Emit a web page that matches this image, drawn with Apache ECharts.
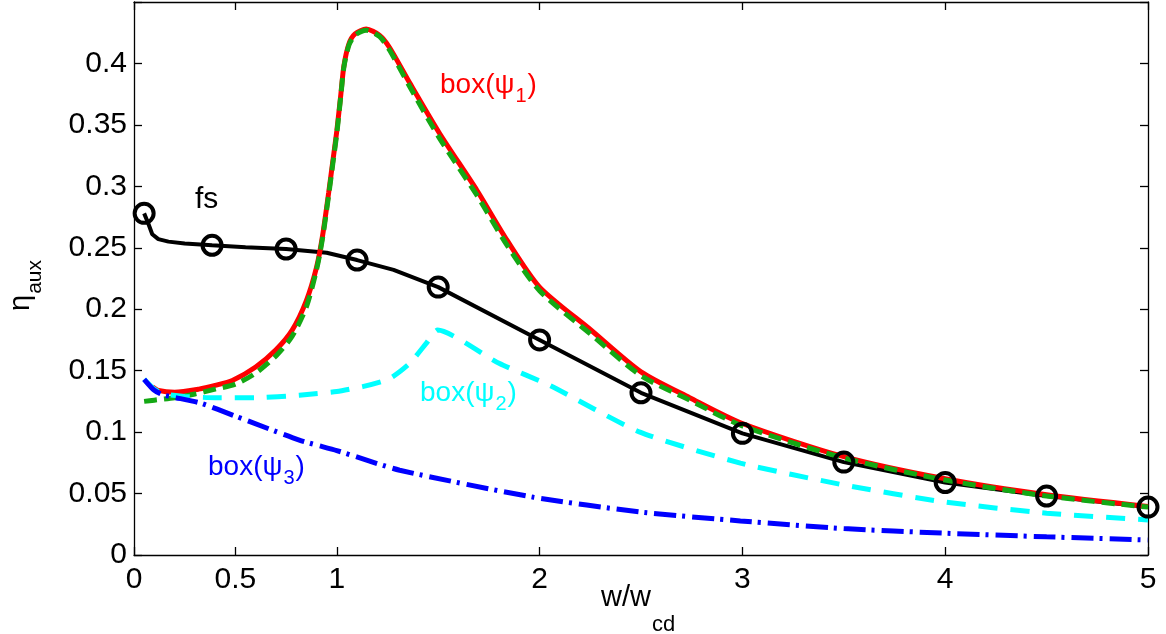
<!DOCTYPE html>
<html>
<head>
<meta charset="utf-8">
<script src="https://cdn.jsdelivr.net/npm/echarts@6/dist/echarts.min.js"></script>
<style>
html,body{margin:0;padding:0;background:#fff;}
#main{width:1166px;height:634px;}
</style>
</head>
<body>
<div id="main"></div>
<script>
// ---- data ----
const xTickValues = [0, 0.5, 1, 2, 3, 4, 5];

const fsX = [0.05, 0.07, 0.09, 0.12, 0.17, 0.25, 0.385, 0.55, 0.75, 0.95, 1.1, 1.28, 1.5, 2.0, 2.5, 3.0, 3.5, 4.0, 4.5, 5.0];
const fsY = [0.278, 0.270, 0.261, 0.257, 0.255, 0.2535, 0.252, 0.2505, 0.249, 0.246, 0.240, 0.232, 0.218, 0.175, 0.132, 0.099, 0.0756, 0.059, 0.048, 0.039];

const fsMarkX = [0.05, 0.385, 0.75, 1.1, 1.5, 2.0, 2.5, 3.0, 3.5, 4.0, 4.5, 5.0];
const fsMarkY = [0.278, 0.252, 0.249, 0.240, 0.218, 0.175, 0.132, 0.099, 0.0756, 0.059, 0.048, 0.039];

const box1X = [0.09, 0.12, 0.2, 0.32, 0.4, 0.485, 0.6, 0.7, 0.78, 0.85, 0.9, 0.93, 0.96, 0.98, 1.0, 1.02, 1.035, 1.06, 1.09, 1.145, 1.21, 1.26, 1.36, 1.507, 1.69, 1.84, 2.0, 2.25, 2.5, 2.74, 3.0, 3.5, 4.0, 4.5, 5.0];
const box1Y = [0.137, 0.134, 0.1325, 0.135, 0.138, 0.142, 0.153, 0.167, 0.183, 0.207, 0.234, 0.26, 0.295, 0.32, 0.345, 0.375, 0.398, 0.416, 0.424, 0.428, 0.423, 0.413, 0.384, 0.343, 0.297, 0.256, 0.218, 0.1835, 0.149, 0.128, 0.107, 0.080, 0.062, 0.049, 0.0395];

const box1bX = [0.05, 0.1, 0.2, 0.3, 0.4, 0.5, 0.6, 0.7, 0.78, 0.85, 0.9, 0.93, 0.96, 0.98, 1.0, 1.02, 1.035, 1.06, 1.09, 1.145, 1.21, 1.26, 1.36, 1.507, 1.69, 1.84, 2.0, 2.25, 2.5, 2.74, 3.0, 3.5, 4.0, 4.5, 5.0];
const box1bY = [0.125, 0.126, 0.128, 0.131, 0.135, 0.139, 0.148, 0.162, 0.178, 0.202, 0.232, 0.258, 0.293, 0.318, 0.343, 0.374, 0.397, 0.415, 0.423, 0.427, 0.422, 0.411, 0.381, 0.339, 0.293, 0.252, 0.215, 0.180, 0.146, 0.126, 0.105, 0.079, 0.061, 0.048, 0.039];

const box2X = [0.05, 0.1, 0.15, 0.25, 0.4, 0.6, 0.815, 1.0, 1.127, 1.22, 1.275, 1.36, 1.44, 1.497, 1.8, 2.05, 2.495, 2.99, 3.5, 3.99, 4.5, 5.0];
const box2Y = [0.143, 0.135, 0.131, 0.129, 0.128, 0.128, 0.130, 0.133, 0.137, 0.141, 0.145, 0.156, 0.172, 0.183, 0.156, 0.138, 0.100, 0.0748, 0.057, 0.0433, 0.034, 0.0285];

const box3X = [0.05, 0.1, 0.15, 0.32, 0.5, 0.815, 1.0, 1.31, 1.97, 2.495, 2.99, 3.5, 3.99, 4.5, 5.0];
const box3Y = [0.143, 0.134, 0.130, 0.124, 0.113, 0.0935, 0.085, 0.069, 0.047, 0.035, 0.0277, 0.0215, 0.0178, 0.0148, 0.0122];

function pairs(xs, ys) { return xs.map((x, i) => [x, ys[i]]); }

const FONT = "'Liberation Sans', Arial, Helvetica, sans-serif";
const measureCtx = document.createElement('canvas').getContext('2d');
function textWidth(t, f) { measureCtx.font = f + 'px ' + FONT; return measureCtx.measureText(t).width; }

// Text with a subscript, anchored at the main baseline (x, base)
function subLabel(x, base, main, sub, tail, color, f, fsub, drop, rot) {
  const w1 = textWidth(main, f);
  const w2 = textWidth(sub, fsub);
  const mk = (tx, ty, t, size) => ({
    type: 'text', x: tx, y: ty,
    style: {text: t, fontSize: size, fontFamily: FONT, fill: color, align: 'left', verticalAlign: 'middle'}
  });
  const children = [mk(0, -0.35 * f, main, f), mk(w1 + 1, drop - 0.35 * fsub, sub, fsub)];
  if (tail) children.push(mk(w1 + w2 + 2, -0.35 * f, tail, f));
  return {type: 'group', x: x, y: base, rotation: rot || 0, children: children, z: 20};
}

const chart = echarts.init(document.getElementById('main'), null, {renderer: 'canvas'});

const axisLine = {show: true, onZero: false, lineStyle: {color: '#000', width: 1.3}};
const tickStyle = {color: '#000', width: 1.3};
const TICKFONT = 30;

const option = {
  backgroundColor: '#fff',
  animation: false,
  grid: {left: 134, right: 18, top: 2, bottom: 79, containLabel: false},
  xAxis: [
    {
      type: 'value', min: 0, max: 5, interval: 0.5, position: 'bottom',
      axisLine: axisLine,
      axisTick: {show: true, inside: true, length: 8, lineStyle: tickStyle, customValues: xTickValues},
      axisLabel: {show: true, customValues: xTickValues, color: '#000', fontSize: TICKFONT, fontFamily: FONT, margin: 10,
        formatter: v => String(Math.round(v * 100) / 100)},
      splitLine: {show: false}
    },
    {
      type: 'value', min: 0, max: 5, interval: 0.5, position: 'top',
      axisLine: axisLine,
      axisTick: {show: true, inside: true, length: 8, lineStyle: tickStyle, customValues: xTickValues},
      axisLabel: {show: false},
      splitLine: {show: false}
    }
  ],
  yAxis: [
    {
      type: 'value', min: 0, max: 0.45, interval: 0.05, position: 'left',
      axisLine: axisLine,
      axisTick: {show: true, inside: true, length: 8, lineStyle: tickStyle},
      axisLabel: {show: true, color: '#000', fontSize: TICKFONT, fontFamily: FONT, margin: 7,
        formatter: v => { const r = Math.round(v * 100) / 100; return r > 0.44 ? '' : String(r); }},
      splitLine: {show: false}
    },
    {
      type: 'value', min: 0, max: 0.45, interval: 0.05, position: 'right',
      axisLine: axisLine,
      axisTick: {show: true, inside: true, length: 8, lineStyle: tickStyle},
      axisLabel: {show: false},
      splitLine: {show: false}
    }
  ],
  series: [
    {
      name: 'fs', type: 'line', data: pairs(fsX, fsY), showSymbol: false, symbol: 'none',
      lineStyle: {color: '#000', width: 4}, z: 2
    },
    {
      name: 'box1', type: 'line', data: pairs(box1X, box1Y), showSymbol: false, symbol: 'none', smooth: 0.25,
      lineStyle: {color: '#ff0000', width: 5}, z: 3
    },
    {
      name: 'box1b', type: 'line', data: pairs(box1bX, box1bY), showSymbol: false, symbol: 'none', smooth: 0.25,
      lineStyle: {color: '#14a814', width: 5, type: [13, 7]}, z: 4
    },
    {
      name: 'box2', type: 'line', data: pairs(box2X, box2Y), showSymbol: false, symbol: 'none', smooth: 0.2,
      lineStyle: {color: '#00ffff', width: 5, type: [19, 13]}, z: 5
    },
    {
      name: 'box3', type: 'line', data: pairs(box3X, box3Y), showSymbol: false, symbol: 'none', smooth: 0.2,
      lineStyle: {color: '#0000ff', width: 5, type: [22, 6, 3, 7]}, z: 6
    },
    {
      name: 'fsMarkers', type: 'scatter', data: pairs(fsMarkX, fsMarkY), symbol: 'circle', symbolSize: 19,
      clip: false,
      itemStyle: {color: 'rgba(0,0,0,0)', borderColor: '#000', borderWidth: 4, opacity: 1}, z: 10
    }
  ],
  graphic: [
    {type: 'text', x: 195, y: 210 - 0.35 * 30, z: 20,
      style: {text: 'fs', fontSize: 30, fontFamily: FONT, fill: '#000', align: 'left', verticalAlign: 'middle'}},
    subLabel(440, 95, 'box(ψ', '1', ')', '#ff0000', 28, 20, 8),
    subLabel(420, 403, 'box(ψ', '2', ')', '#00ffff', 28, 20, 8),
    subLabel(208, 477, 'box(ψ', '3', ')', '#0000ff', 28, 20, 8),
    subLabel(601, 608, 'w/w', 'cd', '', '#000', 29, 22, 25),
    subLabel(31, 311, 'η', 'aux', '', '#000', 29, 21, 12, Math.PI / 2)
  ]
};
chart.setOption(option);
</script>
</body>
</html>
